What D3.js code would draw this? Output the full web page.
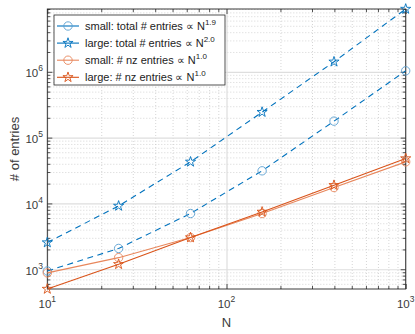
<!DOCTYPE html>
<html>
<head>
<meta charset="utf-8">
<script src="https://cdn.jsdelivr.net/npm/d3@7"></script>
<style>
body { margin: 0; background: #fff; }
svg { display: block; font-family: "Liberation Sans", Arial, sans-serif; }
</style>
</head>
<body>
<script>
// Datos
const N = [10, 25, 63, 158, 398, 1000];
const smallTotal = [940, 2070, 7030, 31300, 178000, 1035000];
const largeTotal = [2545, 9160, 42800, 244000, 1420000, 9000000];
const smallNz = [880, 1500, 3030, 7030, 17450, 42800];
const largeNz = [501, 1190, 3035, 7430, 18900, 48200];

const xTicks = [10, 100, 1000];
const yTicks = [1e3, 1e4, 1e5, 1e6];
const legendLabels = ["small: total # entries \u221D N", "large: total # entries \u221D N",
                      "small: # nz entries \u221D N", "large: # nz entries \u221D N"];
const legendExp = ["1.9", "2.0", "1.0", "1.0"];

const blue = "#0072BD", blueLight = "#5a9fd0";
const orange = "#D95319", orangeLight = "#e8875c";
const textColor = "#3a3a3a";

// series description
const series = [
  {values: smallTotal, color: blue, mcolor: blueLight, dash: "6,4.5", marker: "circle"},
  {values: largeTotal, color: blue, mcolor: blue, dash: "6,4.5", marker: "star"},
  {values: smallNz, color: orangeLight, mcolor: orangeLight, dash: null, marker: "circle"},
  {values: largeNz, color: orange, mcolor: orange, dash: null, marker: "star"}
];

// Margenes y dimensiones
const width = 415, height = 334;
const margin = {top: 9, right: 9.3, bottom: 45, left: 47.3};
const iw = width - margin.left - margin.right;
const ih = height - margin.top - margin.bottom;

const svg = d3.select("body").append("svg")
  .attr("width", width)
  .attr("height", height);

const g = svg.append("g")
  .attr("transform", `translate(${margin.left},${margin.top})`);

const x = d3.scaleLog().domain([10, 1000]).range([0, iw]);
const all = [].concat(smallTotal, largeTotal, smallNz, largeNz);
const y = d3.scaleLog().domain(d3.extent(all)).range([ih, 0]);

const isPow10 = v => Math.abs(Math.log10(v) - Math.round(Math.log10(v))) < 1e-9;
const minorX = x.ticks().filter(v => !isPow10(v));
const minorY = y.ticks().filter(v => !isPow10(v));

// Rejilla menor (punteada)
g.append("g")
  .call(d3.axisBottom(x).tickValues(minorX).tickSize(ih).tickFormat(""))
  .call(s => s.select(".domain").remove())
  .selectAll("line").attr("stroke", "#c4c4c4").attr("stroke-dasharray", "1,2").attr("stroke-width", 0.7);
g.append("g")
  .call(d3.axisRight(y).tickValues(minorY).tickSize(iw).tickFormat(""))
  .call(s => s.select(".domain").remove())
  .selectAll("line").attr("stroke", "#c4c4c4").attr("stroke-dasharray", "1,2").attr("stroke-width", 0.7);

// Rejilla mayor
g.append("g")
  .call(d3.axisBottom(x).tickValues(xTicks).tickSize(ih).tickFormat(""))
  .call(s => s.select(".domain").remove())
  .selectAll("line").attr("stroke", "#dedede").attr("stroke-width", 1.2);
g.append("g")
  .call(d3.axisRight(y).tickValues(yTicks).tickSize(iw).tickFormat(""))
  .call(s => s.select(".domain").remove())
  .selectAll("line").attr("stroke", "#dedede").attr("stroke-width", 1.2);

// Ticks hacia dentro en los cuatro lados
const tickAxes = [
  {axis: d3.axisBottom(x), t: `translate(0,${ih})`, major: xTicks, minor: minorX},
  {axis: d3.axisTop(x), t: "translate(0,0)", major: xTicks, minor: minorX},
  {axis: d3.axisLeft(y), t: "translate(0,0)", major: yTicks, minor: minorY},
  {axis: d3.axisRight(y), t: `translate(${iw},0)`, major: yTicks, minor: minorY}
];
tickAxes.forEach(a => {
  g.append("g").attr("transform", a.t)
    .call(a.axis.tickValues(a.minor).tickSize(-3).tickFormat(""))
    .call(s => s.select(".domain").remove())
    .selectAll("line").attr("stroke", "#262626").attr("stroke-width", 0.8);
  g.append("g").attr("transform", a.t)
    .call(a.axis.tickValues(a.major).tickSize(-5).tickFormat(""))
    .call(s => s.select(".domain").remove())
    .selectAll("line").attr("stroke", "#262626").attr("stroke-width", 0.8);
});

// Caja
g.append("rect")
  .attr("width", iw).attr("height", ih)
  .attr("fill", "none").attr("stroke", "#262626").attr("stroke-width", 0.9);

// Etiquetas de ticks
const xl = g.selectAll(".xlab").data(xTicks).enter().append("text")
  .attr("x", d => x(d)).attr("y", ih + 19.3)
  .attr("text-anchor", "middle").attr("fill", textColor).style("font-size", "11.5px");
xl.append("tspan").text("10");
xl.append("tspan").attr("dy", -6).style("font-size", "8.5px").text(d => Math.round(Math.log10(d)));

const yl = g.selectAll(".ylab").data(yTicks).enter().append("text")
  .attr("x", -4.3).attr("y", d => y(d) + 5.3)
  .attr("text-anchor", "end").attr("fill", textColor).style("font-size", "11.5px");
yl.append("tspan").text("10");
yl.append("tspan").attr("dy", -6).style("font-size", "8.5px").text(d => Math.round(Math.log10(d)));

// Titulos de ejes
svg.append("text").attr("x", margin.left + iw / 2).attr("y", 326.5)
  .attr("text-anchor", "middle").attr("fill", textColor).style("font-size", "13px").text("N");
svg.append("text").attr("transform", `translate(18.5,${margin.top + ih / 2}) rotate(-90)`)
  .attr("text-anchor", "middle").attr("fill", textColor).style("font-size", "13px").text("# of entries");

// Lineas y marcadores
const line = d3.line().x((d, i) => x(N[i])).y(d => y(d));
const star = d3.symbol(d3.symbolStar, 32);

function drawMarker(sel, s) {
  if (s.marker === "circle") {
    sel.append("circle").attr("r", 4.2);
  } else {
    sel.append("path").attr("d", star());
  }
  sel.selectAll("circle,path").attr("fill", "none").attr("stroke", s.mcolor).attr("stroke-width", 0.9);
}

series.forEach(s => {
  g.append("path").datum(s.values)
    .attr("d", line)
    .attr("fill", "none")
    .attr("stroke", s.color)
    .attr("stroke-width", 1.1)
    .attr("stroke-dasharray", s.dash);
  g.selectAll(null).data(s.values).enter().append("g")
    .attr("transform", (d, i) => `translate(${x(N[i])},${y(d)})`)
    .each(function () { drawMarker(d3.select(this), s); });
});

// Leyenda
const leg = svg.append("g").attr("transform", "translate(54,15)");
leg.append("rect").attr("width", 171).attr("height", 70)
  .attr("fill", "#fff").attr("stroke", "#262626").attr("stroke-width", 0.8);
series.forEach((s, i) => {
  const ry = 11 + i * 17.1;
  leg.append("line").attr("x1", 3).attr("x2", 25).attr("y1", ry).attr("y2", ry)
    .attr("stroke", s.color).attr("stroke-width", 1.1);
  const m = leg.append("g").attr("transform", `translate(14,${ry})`);
  drawMarker(m, s);
  const t = leg.append("text").attr("x", 31).attr("y", ry + 4)
    .attr("fill", "#222").style("font-size", "11px");
  t.append("tspan").text(legendLabels[i]);
  t.append("tspan").attr("dy", -5.5).style("font-size", "8px").text(legendExp[i]);
});
</script>
</body>
</html>
